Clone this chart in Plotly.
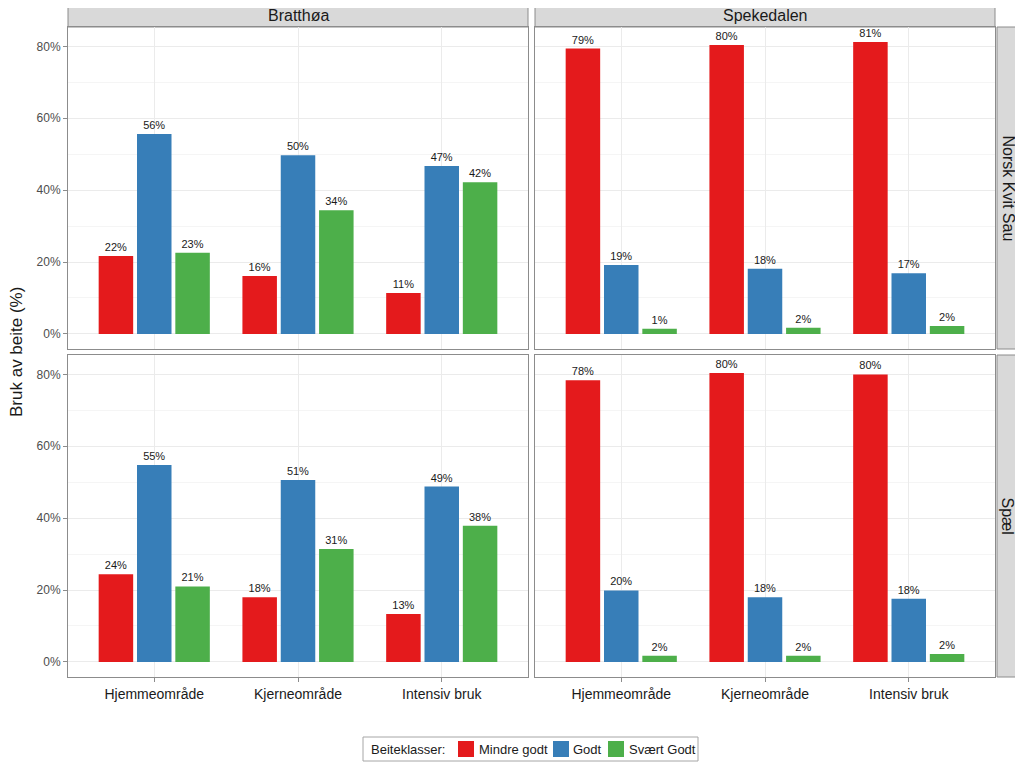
import plotly.graph_objects as go

# ---- data ----
areas = ["Bratthøa", "Spekedalen"]
breeds = ["Norsk Kvit Sau", "Spæl"]
zones = ["Hjemmeområde", "Kjerneområde", "Intensiv bruk"]
classes = ["Mindre godt", "Godt", "Svært Godt"]
colors = ["#E41A1C", "#377EB8", "#4DAF4A"]
y_ticks = [0, 20, 40, 60, 80]
y_tick_labels = ["0%", "20%", "40%", "60%", "80%"]

nks_bratthoa_mindre = [21.7, 16.1, 11.4]
nks_bratthoa_godt = [55.6, 49.7, 46.7]
nks_bratthoa_svaert = [22.6, 34.4, 42.2]

nks_speke_mindre = [79.4, 80.4, 81.2]
nks_speke_godt = [19.2, 18.1, 16.9]
nks_speke_svaert = [1.4, 1.7, 2.2]

spael_bratthoa_mindre = [24.4, 18.0, 13.3]
spael_bratthoa_godt = [54.8, 50.6, 48.8]
spael_bratthoa_svaert = [21.0, 31.4, 37.9]

spael_speke_mindre = [78.4, 80.4, 80.0]
spael_speke_godt = [19.9, 18.0, 17.6]
spael_speke_svaert = [1.7, 1.7, 2.2]

panels = {
    (0, 0): [nks_bratthoa_mindre, nks_bratthoa_godt, nks_bratthoa_svaert],
    (0, 1): [nks_speke_mindre, nks_speke_godt, nks_speke_svaert],
    (1, 0): [spael_bratthoa_mindre, spael_bratthoa_godt, spael_bratthoa_svaert],
    (1, 1): [spael_speke_mindre, spael_speke_godt, spael_speke_svaert],
}

# page body has an 8px margin
OFF = 8
W, H = 1023 - OFF, 769 - OFF
FONT = "Liberation Sans, Arial, sans-serif"
BORDER = "#8C8C8C"

def px_x(p):
    return (p - OFF) / W

def px_y(p):
    return 1 - (p - OFF) / H

col_dom = [(68, 528), (535, 995)]
row_dom = [(27, 349), (355, 677)]

fig = go.Figure()
layout = dict()

for (r, c), series in panels.items():
    i = r * 2 + c + 1
    xa = "x" if i == 1 else f"x{i}"
    ya = "y" if i == 1 else f"y{i}"
    for k, vals in enumerate(series):
        fig.add_trace(go.Bar(
            x=zones, y=vals, name=classes[k],
            marker=dict(color=colors[k], line=dict(width=0)),
            text=[f"{round(v)}%" for v in vals],
            textposition="outside",
            textfont=dict(size=11, color="#1A1A1A", family=FONT),
            cliponaxis=False,
            xaxis=xa, yaxis=ya,
            showlegend=False,
        ))
    xk = "xaxis" if i == 1 else f"xaxis{i}"
    yk = "yaxis" if i == 1 else f"yaxis{i}"
    layout[xk] = dict(
        domain=[px_x(col_dom[c][0]), px_x(col_dom[c][1])],
        anchor=ya, type="category", range=[-0.6, 2.6],
        showgrid=True, gridcolor="#EBEBEB", gridwidth=1,
        showline=True, mirror=True, linecolor=BORDER, linewidth=1,
        ticks="outside" if r == 1 else "", ticklen=4, tickcolor=BORDER,
        showticklabels=(r == 1),
        tickfont=dict(size=14, color="#1A1A1A", family=FONT),
        zeroline=False,
    )
    layout[yk] = dict(
        domain=[px_y(row_dom[r][1]), px_y(row_dom[r][0])],
        anchor=xa, range=[-4.2, 85.4],
        tickmode="array", tickvals=y_ticks, ticktext=y_tick_labels,
        showgrid=True, gridcolor="#EBEBEB", gridwidth=1,
        minor=dict(tickvals=[10, 30, 50, 70], showgrid=True,
                   gridcolor="#F5F5F5", gridwidth=0.6, ticks=""),
        showline=True, mirror=True, linecolor=BORDER, linewidth=1,
        ticks="outside" if c == 0 else "", ticklen=4, tickcolor=BORDER,
        showticklabels=(c == 0),
        tickfont=dict(size=12, color="#4D4D4D", family=FONT),
        zeroline=False,
    )

shapes = []
annotations = []
# column strips
for c, name in enumerate(areas):
    x0, x1 = col_dom[c]
    shapes.append(dict(type="rect", xref="paper", yref="paper",
                       x0=px_x(x0), x1=px_x(x1), y0=px_y(27), y1=px_y(5),
                       fillcolor="#D9D9D9", line=dict(color=BORDER, width=1), layer="below"))
    annotations.append(dict(text=name, xref="paper", yref="paper",
                            x=px_x((x0 + x1) / 2), y=px_y(16), showarrow=False,
                            xanchor="center", yanchor="middle",
                            font=dict(size=16, color="#1A1A1A", family=FONT)))
# row strips
for r, name in enumerate(breeds):
    y0, y1 = row_dom[r]
    shapes.append(dict(type="rect", xref="paper", yref="paper",
                       x0=px_x(997), x1=px_x(1018), y0=px_y(y1), y1=px_y(y0),
                       fillcolor="#D9D9D9", line=dict(color=BORDER, width=1), layer="below"))
    annotations.append(dict(text=name, xref="paper", yref="paper",
                            x=px_x(1007.5), y=px_y((y0 + y1) / 2), showarrow=False,
                            xanchor="center", yanchor="middle", textangle=90,
                            font=dict(size=16, color="#1A1A1A", family=FONT)))
# y title
annotations.append(dict(text="Bruk av beite (%)", xref="paper", yref="paper",
                        x=px_x(16), y=px_y(352), showarrow=False, textangle=-90,
                        xanchor="center", yanchor="middle",
                        font=dict(size=17, color="#1A1A1A", family=FONT)))

# legend (drawn as a framed key below the panels)
shapes.append(dict(type="rect", xref="paper", yref="paper",
                   x0=px_x(363), x1=px_x(698), y0=px_y(761), y1=px_y(737),
                   fillcolor="white", line=dict(color="#A6A6A6", width=1)))
annotations.append(dict(text="Beiteklasser:", xref="paper", yref="paper",
                        x=px_x(369), y=px_y(749.5), showarrow=False,
                        xanchor="left", yanchor="middle",
                        font=dict(size=13, color="#1A1A1A", family=FONT)))
key_sq = [458, 553, 608]
key_tx = [477, 571, 627]
for k, name in enumerate(classes):
    shapes.append(dict(type="rect", xref="paper", yref="paper",
                       x0=px_x(key_sq[k]), x1=px_x(key_sq[k] + 16),
                       y0=px_y(757), y1=px_y(741),
                       fillcolor=colors[k], line=dict(width=0)))
    annotations.append(dict(text=name, xref="paper", yref="paper",
                            x=px_x(key_tx[k]), y=px_y(749.5), showarrow=False,
                            xanchor="left", yanchor="middle",
                            font=dict(size=13, color="#1A1A1A", family=FONT)))

fig.update_layout(
    width=W, height=H,
    margin=dict(l=0, r=0, t=0, b=0),
    paper_bgcolor="white", plot_bgcolor="white",
    barmode="group", bargap=0.2, bargroupgap=0.1,
    font=dict(family=FONT, color="#1A1A1A"),
    shapes=shapes, annotations=annotations,
    showlegend=False,
    **layout,
)

fig.write_html("out.html")
